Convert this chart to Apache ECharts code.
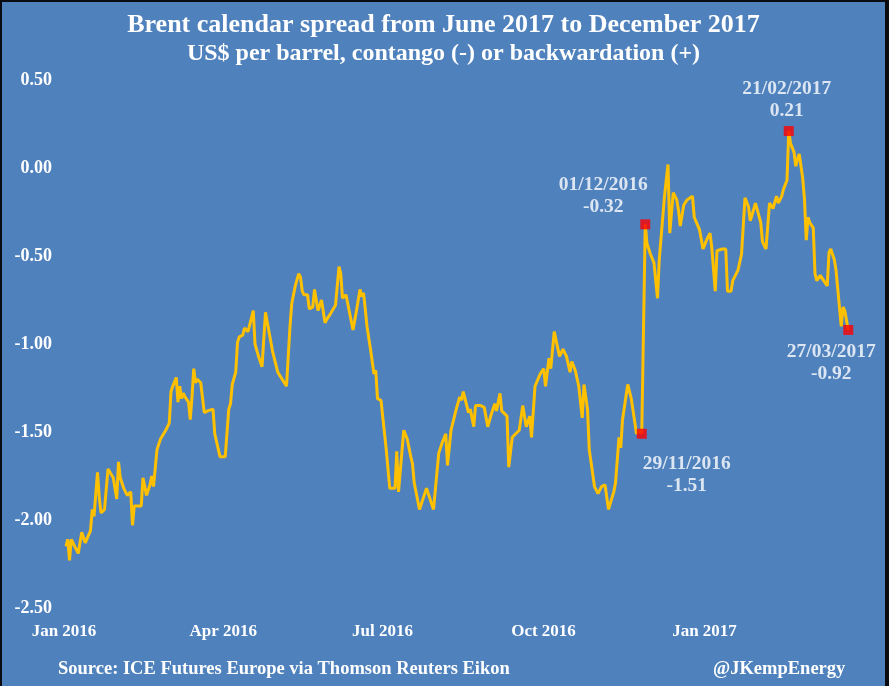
<!DOCTYPE html>
<html>
<head>
<meta charset="utf-8">
<script src="https://cdn.jsdelivr.net/npm/echarts@6/dist/echarts.min.js"></script>
<style>
html,body{margin:0;padding:0;background:#0b0b12;width:889px;height:686px;overflow:hidden;}
#chart{position:absolute;left:2px;top:2px;width:883px;height:684px;background:#4F81BD;}
</style>
</head>
<body>
<div id="chart"></div>
<script>
// Day offsets counted from 1 January 2016
var days = [
4,5,6,7,9,11,13,15,16,18,
19,20,22,23,24,26,28,29,31,33,
34,35,37,39,41,42,43,47,48,49,
50,52,53,54,56,58,61,63,64,65,
67,68,69,70,71,72,74,75,76,77,
78,79,81,82,83,85,88,89,92,95,
97,98,99,101,102,103,105,106,108,109,
111,112,114,116,118,120,122,125,126,130,
132,133,135,137,138,139,140,142,143,145,
146,148,149,150,152,153,155,158,159,160,
161,162,164,165,168,170,172,173,174,175,
176,178,180,181,182,184,185,187,189,192,
193,194,195,197,199,201,202,203,206,208,
209,210,212,214,217,219,221,222,224,227,
229,230,231,232,234,235,237,238,241,243,
245,247,249,250,252,253,256,257,259,263,
265,267,269,270,272,275,277,278,280,281,
283,286,288,290,292,293,295,297,299,300,
302,303,306,308,310,312,314,317,318,320,
321,322,325,327,328,330,332,333,335,336,
338,340,342,343,344,346,348,349,350,351,
353,354,355,357,359,362,363,366,368,370,
372,373,375,376,379,381,382,384,385,388,
390,392,394,395,396,398,399,401,402,404,
405,406,408,410,411,413,414,416,417,418,
420,421,422,423,425,426,427,428,429,431,
432,433,435,437,439,440,441,443,444,447,
448,449,451
];
var spread = [
-2.15,-2.11,-2.23,-2.11,-2.15,-2.19,-2.07,-2.13,-2.14,-2.06,
-1.94,-1.98,-1.73,-1.87,-1.96,-1.94,-1.71,-1.71,-1.76,-1.88,
-1.67,-1.76,-1.82,-1.86,-1.84,-2.03,-1.92,-1.92,-1.76,-1.77,
-1.86,-1.80,-1.75,-1.81,-1.60,-1.54,-1.49,-1.45,-1.27,-1.24,
-1.19,-1.33,-1.24,-1.31,-1.28,-1.30,-1.33,-1.43,-1.30,-1.14,
-1.22,-1.20,-1.22,-1.21,-1.39,-1.38,-1.37,-1.51,-1.64,-1.64,
-1.37,-1.34,-1.23,-1.16,-0.99,-0.96,-0.95,-0.91,-0.93,-0.94,
-0.81,-1.00,-1.07,-1.13,-0.82,-0.93,-1.04,-1.16,-1.16,-1.24,
-0.90,-0.77,-0.67,-0.60,-0.62,-0.70,-0.72,-0.72,-0.80,-0.79,
-0.69,-0.81,-0.78,-0.75,-0.88,-0.86,-0.83,-0.78,-0.67,-0.56,
-0.60,-0.74,-0.72,-0.73,-0.92,-0.81,-0.69,-0.73,-0.71,-0.80,
-0.90,-1.03,-1.17,-1.15,-1.31,-1.32,-1.33,-1.60,-1.82,-1.82,
-1.61,-1.84,-1.84,-1.49,-1.54,-1.64,-1.68,-1.79,-1.94,-1.88,
-1.88,-1.82,-1.88,-1.94,-1.62,-1.56,-1.51,-1.69,-1.49,-1.37,
-1.30,-1.32,-1.27,-1.28,-1.39,-1.37,-1.47,-1.35,-1.35,-1.36,
-1.47,-1.40,-1.34,-1.38,-1.28,-1.38,-1.41,-1.70,-1.53,-1.49,
-1.35,-1.47,-1.41,-1.53,-1.24,-1.17,-1.14,-1.24,-1.08,-1.14,
-0.93,-1.07,-1.03,-1.07,-1.16,-1.10,-1.15,-1.24,-1.42,-1.23,
-1.37,-1.60,-1.81,-1.85,-1.81,-1.80,-1.94,-1.84,-1.79,-1.53,
-1.59,-1.43,-1.23,-1.31,-1.31,-1.51,-1.49,-1.51,-0.32,-0.43,
-0.49,-0.54,-0.74,-0.52,-0.51,-0.16,0.02,-0.37,-0.37,-0.14,
-0.18,-0.24,-0.33,-0.21,-0.18,-0.16,-0.28,-0.35,-0.46,-0.41,
-0.37,-0.45,-0.70,-0.47,-0.46,-0.46,-0.70,-0.70,-0.64,-0.58,
-0.49,-0.17,-0.22,-0.30,-0.30,-0.20,-0.20,-0.31,-0.42,-0.46,
-0.33,-0.20,-0.23,-0.16,-0.20,-0.16,-0.12,-0.07,0.21,0.14,
0.09,0.01,0.05,0.08,-0.06,-0.18,-0.41,-0.28,-0.31,-0.34,
-0.60,-0.64,-0.61,-0.64,-0.67,-0.48,-0.46,-0.52,-0.58,-0.90,
-0.79,-0.81,-0.92
];
// x-axis tick positions (day offsets) and their labels
var tickDays = [0, 91, 182, 274, 366];
var tickLabels = ['Jan 2016', 'Apr 2016', 'Jul 2016', 'Oct 2016', 'Jan 2017'];
// highlighted points
var markDates = ['29/11/2016', '01/12/2016', '21/02/2017', '27/03/2017'];
var markDays = [333, 335, 417, 451];
var markValues = [-1.51, -0.32, 0.21, -0.92];

var titleText = 'Brent calendar spread from June 2017 to December 2017';
var subtitleText = 'US$ per barrel, contango (-) or backwardation (+)';
var sourceText = 'Source: ICE Futures Europe via Thomson Reuters Eikon';
var handleText = '@JKempEnergy';

var FONT = '"Liberation Serif", "Times New Roman", serif';
var labelOffsets = [[45, 41], [-42, -28], [-2, -31], [-17, 33]];

var lineData = days.map(function (d, i) { return [d, spread[i]]; });
var markData = markDays.map(function (d, i) {
  return {
    value: [d, markValues[i]],
    name: markDates[i],
    label: { offset: labelOffsets[i] }
  };
});

var chart = echarts.init(document.getElementById('chart'));
chart.setOption({
  animation: false,
  backgroundColor: '#4F81BD',
  title: [
    { text: titleText, left: 'center', top: 3,
      textStyle: { color: '#fff', fontFamily: FONT, fontWeight: 'bold', fontSize: 26, lineHeight: 30 } },
    { text: subtitleText, left: 'center', top: 33,
      textStyle: { color: '#fff', fontFamily: FONT, fontWeight: 'bold', fontSize: 24, lineHeight: 28 } },
    { text: sourceText, left: 51, top: 651,
      textStyle: { color: '#fff', fontFamily: FONT, fontWeight: 'bold', fontSize: 18.5, lineHeight: 22 } },
    { text: handleText, left: 706, top: 651,
      textStyle: { color: '#fff', fontFamily: FONT, fontWeight: 'bold', fontSize: 18.5, lineHeight: 22 } }
  ],
  grid: { left: 57, right: 21, top: 78, bottom: 78, containLabel: false },
  xAxis: {
    type: 'value', min: 0, max: 460,
    axisLine: { show: false }, axisTick: { show: false }, splitLine: { show: false },
    axisLabel: {
      customValues: tickDays,
      formatter: function (v) { var k = tickDays.indexOf(v); return k >= 0 ? tickLabels[k] : ''; },
      color: '#fff', fontFamily: FONT, fontWeight: 'bold', fontSize: 17, margin: 15,
      padding: [0, 0, 0, 10]
    }
  },
  yAxis: {
    type: 'value', min: -2.5, max: 0.5, interval: 0.5,
    axisLine: { show: false }, axisTick: { show: false }, splitLine: { show: false },
    axisLabel: {
      formatter: function (v) { return v.toFixed(2); },
      color: '#fff', fontFamily: FONT, fontWeight: 'bold', fontSize: 18, margin: 7
    }
  },
  series: [
    { type: 'line', data: lineData, showSymbol: false, symbol: 'none',
      lineStyle: { color: '#FFC000', width: 3 }, z: 2 },
    { type: 'scatter', data: markData, symbol: 'rect', symbolSize: 10,
      itemStyle: { color: '#FF0000' }, z: 3,
      label: {
        show: true, position: 'inside',
        formatter: function (p) { return p.name + '\n' + p.value[1].toFixed(2); },
        color: '#fff', fontFamily: FONT, fontWeight: 'bold', fontSize: 19.5, lineHeight: 22,
        align: 'center', verticalAlign: 'middle'
      }
    }
  ]
});
</script>
</body>
</html>
